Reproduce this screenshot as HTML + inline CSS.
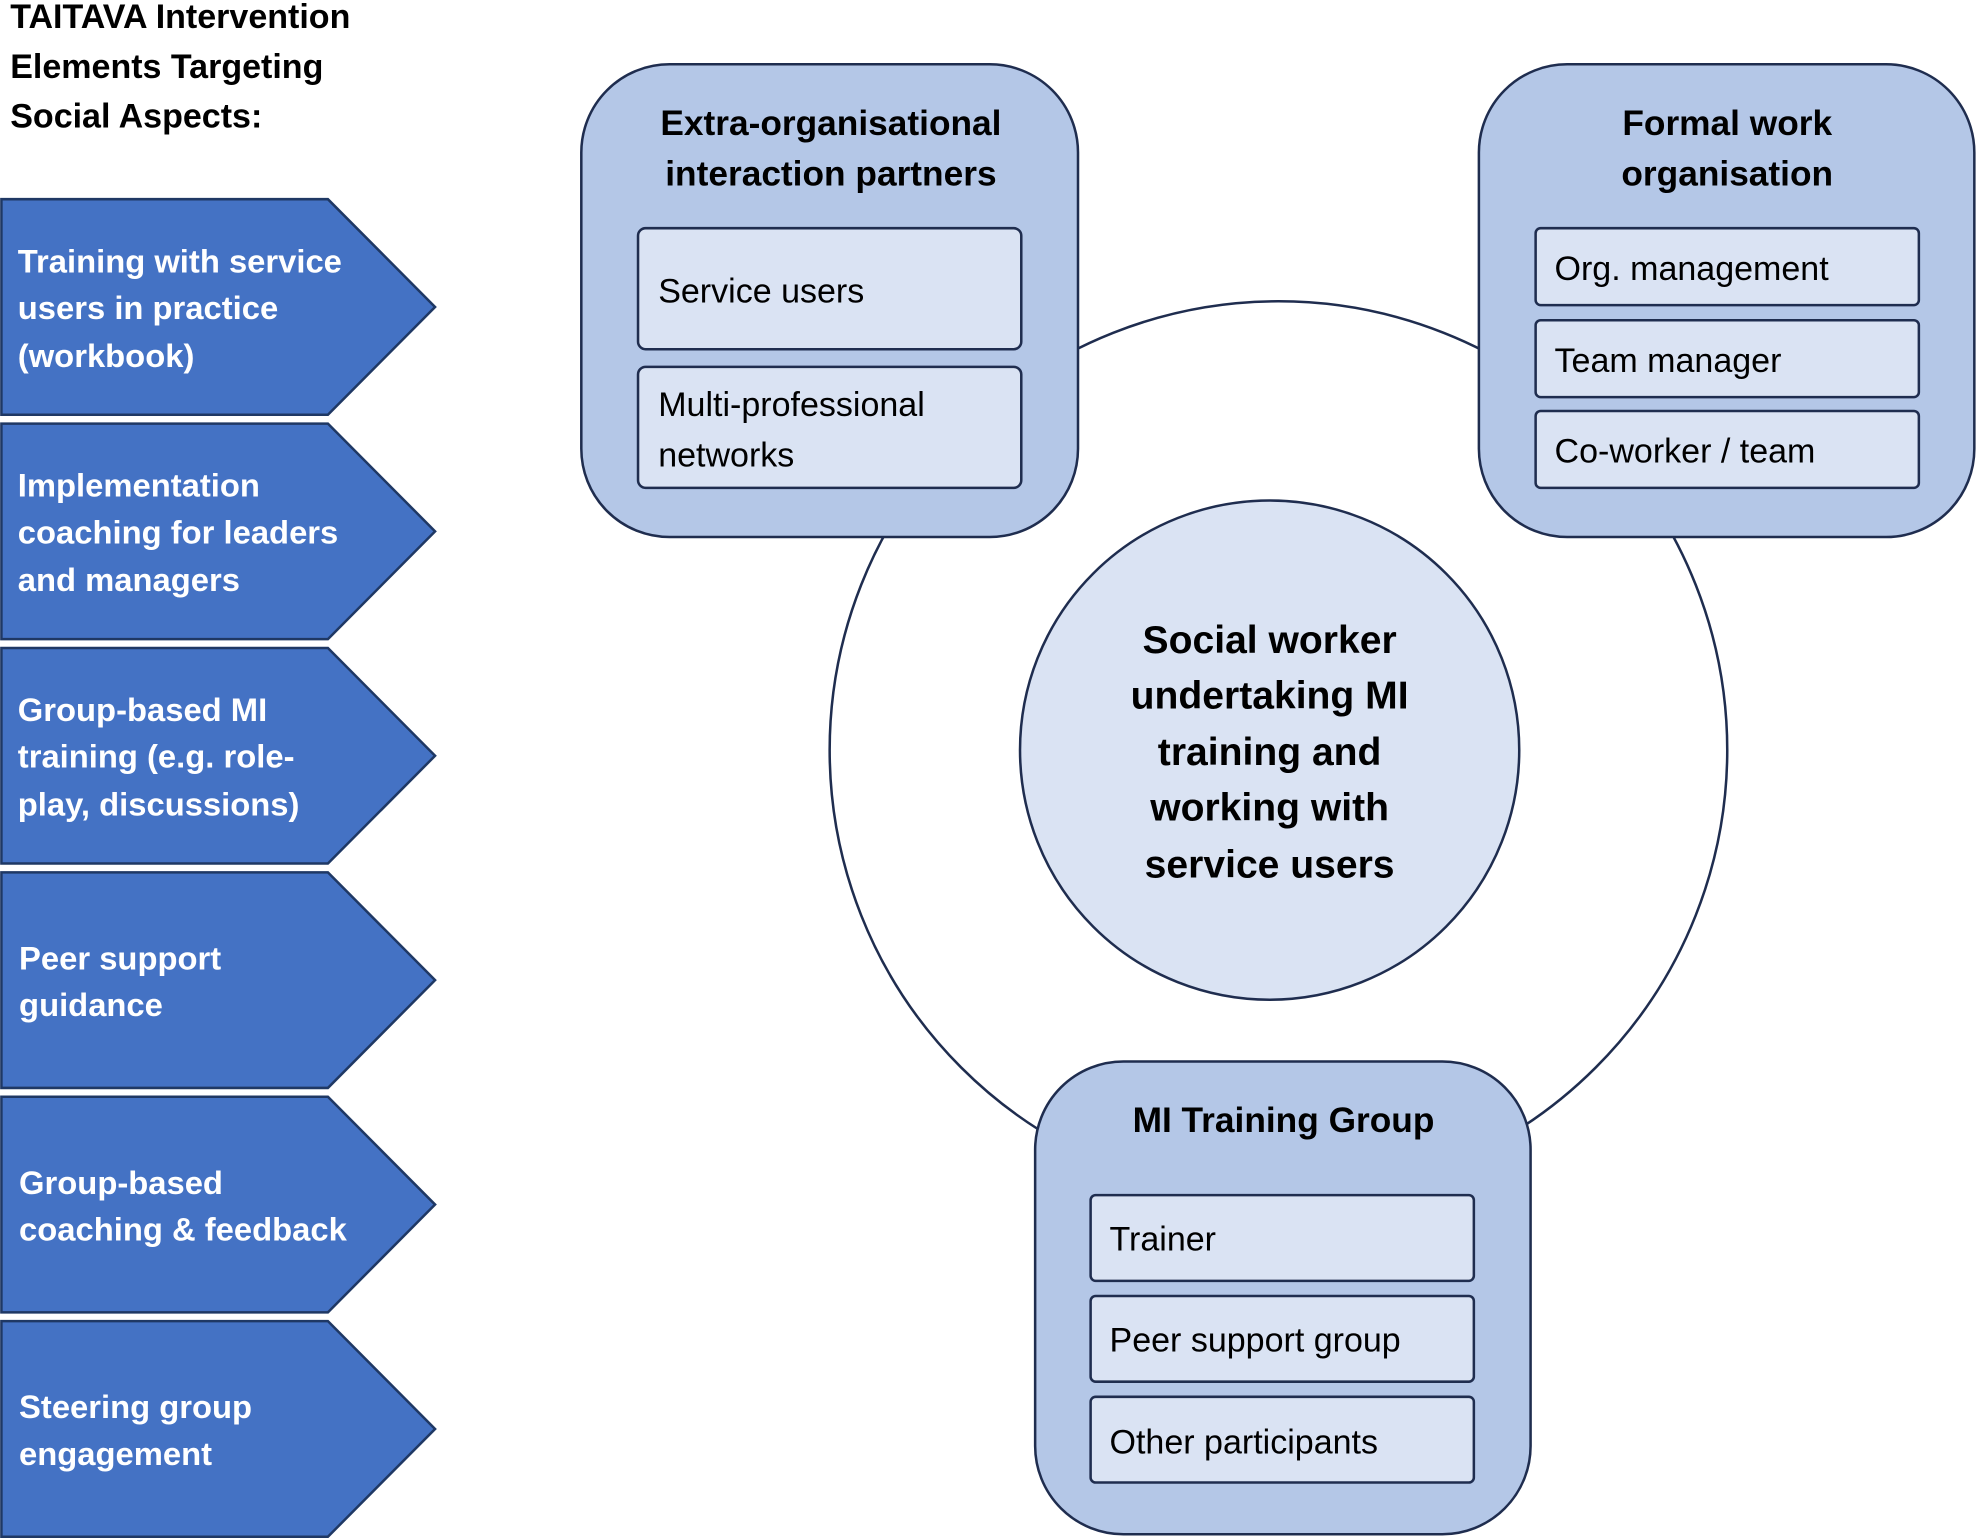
<!DOCTYPE html>
<html><head><meta charset="utf-8"><style>
html,body{margin:0;padding:0;background:#fff;}
svg{display:block;}
text{font-family:"Liberation Sans",sans-serif;}
.t{font-weight:bold;font-size:27px;fill:#000;}
.a{font-weight:bold;font-size:26px;fill:#fff;}
.h{font-weight:bold;font-size:28px;fill:#000;text-anchor:middle;}
.b{font-size:27px;fill:#000;}
.c{font-weight:bold;font-size:31px;fill:#000;text-anchor:middle;}
</style></head><body>
<svg width="1977" height="1538" viewBox="0 0 1568 1220" xmlns="http://www.w3.org/2000/svg">
<rect width="1568" height="1220" fill="#fff"/>
<text class="t" x="8" y="22">TAITAVA Intervention</text>
<text class="t" x="8" y="62">Elements Targeting</text>
<text class="t" x="8" y="101">Social Aspects:</text>
<g fill="#4472C4" stroke="#1F3864" stroke-width="2">
<polygon points="1,158 260,158 345,243.5 260,329 1,329"/>
<polygon points="1,336 260,336 345,421.5 260,507 1,507"/>
<polygon points="1,514 260,514 345,599.5 260,685 1,685"/>
<polygon points="1,692 260,692 345,777.5 260,863 1,863"/>
<polygon points="1,870 260,870 345,955.5 260,1041 1,1041"/>
<polygon points="1,1048 260,1048 345,1133.5 260,1219 1,1219"/>
</g>
<text class="a" x="14" y="216">Training with service</text>
<text class="a" x="14" y="253">users in practice</text>
<text class="a" x="14" y="291">(workbook)</text>
<text class="a" x="14" y="394">Implementation</text>
<text class="a" x="14" y="431">coaching for leaders</text>
<text class="a" x="14" y="469">and managers</text>
<text class="a" x="14" y="572">Group-based MI</text>
<text class="a" x="14" y="609">training (e.g. role-</text>
<text class="a" x="14" y="647">play, discussions)</text>
<text class="a" x="15" y="769">Peer support</text>
<text class="a" x="15" y="806">guidance</text>
<text class="a" x="15" y="947">Group-based</text>
<text class="a" x="15" y="984">coaching &amp; feedback</text>
<text class="a" x="15" y="1125">Steering group</text>
<text class="a" x="15" y="1162">engagement</text>

<circle cx="1014" cy="595" r="356" fill="none" stroke="#1F2D4F" stroke-width="2"/>
<circle cx="1007" cy="595" r="198" fill="#DAE3F3" stroke="#1F2D4F" stroke-width="2"/>
<text class="c" x="1007" y="518">Social worker</text>
<text class="c" x="1007" y="562">undertaking MI</text>
<text class="c" x="1007" y="607">training and</text>
<text class="c" x="1007" y="651">working with</text>
<text class="c" x="1007" y="696">service users</text>

<g stroke="#1F2D4F" stroke-width="2">
<rect x="461" y="51" width="394" height="375" rx="70" fill="#B4C7E7"/>
<rect x="1173" y="51" width="393" height="375" rx="70" fill="#B4C7E7"/>
<rect x="821" y="842" width="393" height="375" rx="70" fill="#B4C7E7"/>
<g fill="#DAE3F3">
<rect x="506" y="181" width="304" height="96" rx="6"/>
<rect x="506" y="291" width="304" height="96" rx="6"/>
<rect x="1218" y="181" width="304" height="61" rx="4"/>
<rect x="1218" y="254" width="304" height="61" rx="4"/>
<rect x="1218" y="326" width="304" height="61" rx="4"/>
<rect x="865" y="948" width="304" height="68" rx="4"/>
<rect x="865" y="1028" width="304" height="68" rx="4"/>
<rect x="865" y="1108" width="304" height="68" rx="4"/>
</g></g>
<text class="h" x="659" y="107">Extra-organisational</text>
<text class="h" x="659" y="147">interaction partners</text>
<text class="h" x="1370" y="107">Formal work</text>
<text class="h" x="1370" y="147">organisation</text>
<text class="h" x="1018" y="898">MI Training Group</text>
<text class="b" x="522" y="240">Service users</text>
<text class="b" x="522" y="330">Multi-professional</text>
<text class="b" x="522" y="370">networks</text>
<text class="b" x="1233" y="222">Org. management</text>
<text class="b" x="1233" y="295">Team manager</text>
<text class="b" x="1233" y="367">Co-worker / team</text>
<text class="b" x="880" y="992">Trainer</text>
<text class="b" x="880" y="1072">Peer support group</text>
<text class="b" x="880" y="1153">Other participants</text>
</svg>
</body></html>
